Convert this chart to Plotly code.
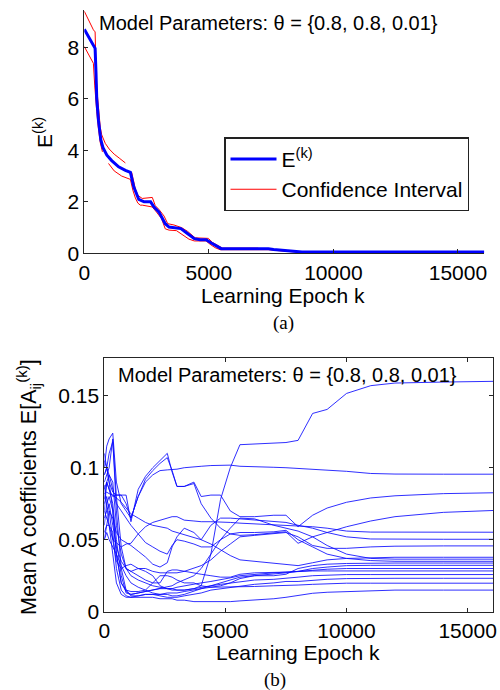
import plotly.graph_objects as go

W, H = 500, 690

# ---------------- (a) data ----------------
epoch_a = [0, 200, 365, 434, 470, 500, 567, 664, 750, 907, 1100, 1378, 1650, 1852, 1985, 2100,
           2188, 2400, 2662, 2800, 3000, 3136, 3250, 3404, 3600, 3878, 4100, 4417, 4650, 4891,
           5100, 5300, 5498, 6000, 7000, 7390, 7600, 8060, 8300, 8740, 9500, 12000, 16060]
error_mean = [8.7, 8.35, 8.1, 7.96, 7.0, 6.0, 5.17, 4.4, 4.1, 3.81, 3.6, 3.36, 3.22, 3.14, 2.58, 2.3,
              2.09, 2.0, 2.0, 1.8, 1.6, 1.35, 1.15, 1.02, 1.0, 0.96, 0.8, 0.57, 0.53, 0.53,
              0.4, 0.28, 0.18, 0.18, 0.18, 0.18, 0.15, 0.12, 0.1, 0.05, 0.05, 0.05, 0.05]

ci_upper_k1 = [0, 200, 365, 434, 450, 480, 520, 580, 640, 700, 842, 1000, 1200, 1400, 1649]
ci_upper_v1 = [9.4, 9.0, 8.68, 8.6, 7.5, 6.8, 6.2, 5.5, 4.9, 4.6, 4.27, 4.05, 3.85, 3.7, 3.51]
ci_upper_k2 = [1900, 1960, 2050, 2150, 2326, 2730, 2850, 3000, 3200, 3350, 3600, 3900, 4150, 4450,
               4700, 4980, 5150, 5350, 5550, 6000, 6985]
ci_upper_v2 = [3.15, 2.9, 2.5, 2.25, 2.13, 2.17, 1.85, 1.7, 1.45, 1.15, 1.1, 1.0, 0.85, 0.6,
               0.58, 0.58, 0.42, 0.3, 0.2, 0.2, 0.2]
ci_lower_k1 = [0, 231, 365, 420, 450, 500, 560, 640, 729]
ci_lower_v1 = [8.03, 7.64, 7.38, 6.5, 6.0, 5.5, 4.9, 4.3, 3.94]
ci_lower_k2 = [972, 1200, 1500, 1852, 1950, 2050, 2150, 2250, 2326, 2730, 2900, 3100, 3250, 3404,
               3700, 3950, 4200, 4417, 4891, 5050, 5250, 5450, 6000, 7400, 8060, 8870]
ci_lower_v2 = [3.49, 3.2, 3.0, 2.87, 2.45, 2.15, 1.95, 1.87, 1.87, 1.80, 1.6, 1.35, 0.95, 0.9,
               0.88, 0.72, 0.55, 0.48, 0.48, 0.35, 0.22, 0.14, 0.14, 0.14, 0.08, 0.03]

# ---------------- (b) data ----------------
epoch_b = [0, 100, 200, 350, 500, 700, 900, 1100, 1400, 1700, 2000, 2300, 2600, 2800, 3000, 3300,
           3700, 4000, 4400, 4800, 5200, 5600, 6200, 7000, 7500, 8000, 8600, 9200, 10000, 11000,
           12000, 14000, 16060]
a01 = [0.095, 0.10, 0.11, 0.118, 0.08, 0.045, 0.03, 0.025, 0.022, 0.02, 0.018, 0.017, 0.016, 0.016, 0.015, 0.015,
       0.016, 0.018, 0.04, 0.078, 0.100, 0.116, 0.1165, 0.117, 0.1175, 0.119, 0.1377, 0.1405, 0.1516, 0.157,
       0.1588, 0.1595, 0.160]
a02 = [0.078, 0.09, 0.085, 0.08, 0.081, 0.081, 0.075, 0.065, 0.08, 0.09, 0.095, 0.098, 0.0985, 0.0988, 0.099, 0.100,
       0.1003, 0.101, 0.1015, 0.1018, 0.1018, 0.101, 0.1005, 0.1003, 0.100, 0.0995, 0.099, 0.098, 0.0975, 0.096,
       0.0956, 0.0955, 0.0955]
a03 = [0.11, 0.10, 0.09, 0.083, 0.081, 0.081, 0.081, 0.0625, 0.085, 0.094, 0.10, 0.105, 0.110, 0.097, 0.087, 0.087,
       0.090, 0.080, 0.081, 0.081, 0.070, 0.066, 0.066, 0.067, 0.067, 0.059, 0.067, 0.072, 0.076, 0.079,
       0.0805, 0.082, 0.0826]
a04 = [0.10, 0.115, 0.12, 0.124, 0.09, 0.075, 0.07, 0.065, 0.08, 0.092, 0.098, 0.103, 0.107, 0.098, 0.087, 0.087,
       0.089, 0.075, 0.065, 0.058, 0.054, 0.053, 0.0535, 0.055, 0.0555, 0.0475, 0.052, 0.055, 0.059, 0.063,
       0.066, 0.069, 0.0703]
a05 = [0.088, 0.075, 0.06, 0.05, 0.048, 0.045, 0.047, 0.0475, 0.054, 0.059, 0.062, 0.0636, 0.065, 0.066, 0.066, 0.0636,
       0.063, 0.0625, 0.0625, 0.0625, 0.062, 0.0615, 0.061, 0.0605, 0.060, 0.0595, 0.059, 0.058, 0.056, 0.0553,
       0.0552, 0.0552, 0.0552]
a06 = [0.05, 0.06, 0.07, 0.065, 0.055, 0.05, 0.048, 0.046, 0.042, 0.038, 0.033, 0.031, 0.034, 0.045, 0.052, 0.058,
       0.055, 0.050, 0.06, 0.065, 0.065, 0.0645, 0.064, 0.063, 0.062, 0.060, 0.058, 0.055, 0.052, 0.0505,
       0.0503, 0.0503, 0.0503]
a07 = [0.07, 0.09, 0.095, 0.09, 0.06, 0.04, 0.03, 0.028, 0.03, 0.03, 0.028, 0.027, 0.027, 0.027, 0.027, 0.028,
       0.03, 0.032, 0.036, 0.042, 0.047, 0.052, 0.053, 0.054, 0.055, 0.052, 0.046, 0.044, 0.044, 0.045,
       0.0455, 0.0457, 0.0457]
a08 = [0.082, 0.083, 0.082, 0.081, 0.079, 0.076, 0.072, 0.068, 0.065, 0.062, 0.060, 0.059, 0.058, 0.056, 0.055, 0.053,
       0.051, 0.050, 0.047, 0.043, 0.039, 0.036, 0.035, 0.034, 0.033, 0.032, 0.034, 0.036, 0.037, 0.0375,
       0.0378, 0.0378, 0.0378]
a09 = [0.105, 0.10, 0.095, 0.085, 0.075, 0.07, 0.065, 0.06, 0.054, 0.048, 0.045, 0.042, 0.04, 0.046, 0.05, 0.049,
       0.047, 0.045, 0.045, 0.05, 0.058, 0.065, 0.0645, 0.06, 0.058, 0.056, 0.052, 0.046, 0.04, 0.037,
       0.0365, 0.0365, 0.0365]
a10 = [0.06, 0.075, 0.08, 0.07, 0.04, 0.02, 0.014, 0.012, 0.013, 0.014, 0.015, 0.016, 0.017, 0.018, 0.02, 0.022,
       0.025, 0.03, 0.04, 0.05, 0.054, 0.055, 0.055, 0.0555, 0.0565, 0.05, 0.045, 0.04, 0.037, 0.0355,
       0.035, 0.035, 0.035]
a11 = [0.09, 0.095, 0.1, 0.12, 0.07, 0.03, 0.015, 0.011, 0.011, 0.012, 0.012, 0.012, 0.013, 0.013, 0.013, 0.014,
       0.015, 0.016, 0.018, 0.02, 0.022, 0.024, 0.025, 0.025, 0.026, 0.03, 0.032, 0.033, 0.0335, 0.0338,
       0.0338, 0.0338, 0.0338]
a12 = [0.065, 0.07, 0.075, 0.06, 0.045, 0.035, 0.03, 0.028, 0.025, 0.022, 0.02, 0.02, 0.028, 0.029, 0.029, 0.028,
       0.027, 0.026, 0.025, 0.024, 0.024, 0.026, 0.027, 0.027, 0.0275, 0.028, 0.03, 0.031, 0.032, 0.0322,
       0.0322, 0.0322, 0.0322]
a13 = [0.05, 0.055, 0.05, 0.045, 0.04, 0.032, 0.025, 0.02, 0.017, 0.015, 0.013, 0.012, 0.012, 0.011, 0.011, 0.012,
       0.014, 0.016, 0.017, 0.018, 0.02, 0.023, 0.025, 0.026, 0.027, 0.028, 0.029, 0.0295, 0.03, 0.03,
       0.03, 0.03, 0.03]
a14 = [0.085, 0.09, 0.085, 0.075, 0.05, 0.025, 0.013, 0.012, 0.013, 0.014, 0.015, 0.016, 0.016, 0.016, 0.017, 0.018,
       0.019, 0.02, 0.021, 0.022, 0.0235, 0.025, 0.026, 0.027, 0.0275, 0.028, 0.0283, 0.0283, 0.0283, 0.0283,
       0.0283, 0.0283, 0.0283]
a15 = [0.075, 0.08, 0.07, 0.05, 0.035, 0.03, 0.032, 0.033, 0.03, 0.028, 0.025, 0.018, 0.016, 0.015, 0.015, 0.015,
       0.016, 0.017, 0.018, 0.019, 0.02, 0.021, 0.022, 0.0225, 0.023, 0.024, 0.025, 0.0255, 0.0258, 0.0258,
       0.0258, 0.0258, 0.0258]
a16 = [0.055, 0.06, 0.06, 0.055, 0.03, 0.015, 0.011, 0.01, 0.011, 0.012, 0.012, 0.011, 0.01, 0.01, 0.01, 0.011,
       0.012, 0.013, 0.015, 0.016, 0.017, 0.018, 0.019, 0.02, 0.021, 0.021, 0.022, 0.0225, 0.023, 0.0232,
       0.0232, 0.0232, 0.0232]
a17 = [0.095, 0.1, 0.09, 0.07, 0.04, 0.02, 0.015, 0.014, 0.014, 0.015, 0.02, 0.025, 0.025, 0.024, 0.022, 0.02,
       0.02, 0.018, 0.017, 0.017, 0.017, 0.017, 0.0175, 0.018, 0.018, 0.0185, 0.019, 0.0195, 0.0198, 0.0198,
       0.0198, 0.0198, 0.0198]
a18 = [0.07, 0.065, 0.06, 0.04, 0.02, 0.012, 0.01, 0.01, 0.01, 0.01, 0.01, 0.009, 0.009, 0.009, 0.008, 0.008,
       0.007, 0.007, 0.0068, 0.0068, 0.007, 0.0075, 0.008, 0.009, 0.01, 0.0115, 0.0128, 0.0135, 0.014, 0.0145,
       0.015, 0.015, 0.015]
coef_series = [a01, a02, a03, a04, a05, a06, a07, a08, a09, a10, a11, a12, a13, a14, a15, a16, a17, a18]

x_ticks = [0, 5000, 10000, 15000]
x_ticklabels = ["0", "5000", "10000", "15000"]
ya_ticks = [0, 2, 4, 6, 8]
yb_ticks = [0, 0.05, 0.1, 0.15]
yb_ticklabels = ["0", "0.05", "0.1", "0.15"]

SANS = "Liberation Sans, Arial, Helvetica, sans-serif"
SERIF = "Liberation Serif, Times New Roman, serif"
AX = "#262626"


def px(x):
    return x / W


def py(y):
    return 1 - y / H


fig = go.Figure()

# (a) traces: red first (drawn under), blue last
fig.add_trace(go.Scatter(x=ci_upper_k1 + [None] + ci_upper_k2, y=ci_upper_v1 + [None] + ci_upper_v2,
                         mode="lines", line=dict(color="rgb(255,0,0)", width=1),
                         name="Confidence Interval", xaxis="x", yaxis="y", legendrank=2))
fig.add_trace(go.Scatter(x=ci_lower_k1 + [None] + ci_lower_k2, y=ci_lower_v1 + [None] + ci_lower_v2,
                         mode="lines", line=dict(color="rgb(255,0,0)", width=1),
                         showlegend=False, xaxis="x", yaxis="y"))
fig.add_trace(go.Scatter(x=epoch_a, y=error_mean, mode="lines",
                         line=dict(color="rgb(0,0,255)", width=3),
                         name="E<sup>(k)</sup>", xaxis="x", yaxis="y", legendrank=1))

# (b) traces
for s in coef_series:
    fig.add_trace(go.Scatter(x=epoch_b, y=s, mode="lines",
                             line=dict(color="rgba(10,10,255,0.85)", width=1),
                             showlegend=False, xaxis="x2", yaxis="y2"))

XR = [0, 16060]
common_axis = dict(showgrid=False, zeroline=False, ticks="inside", ticklen=4, tickcolor=AX,
                   linecolor=AX, linewidth=1, showline=True, automargin=False,
                   ticklabeloverflow="allow",
                   tickfont=dict(family=SANS, size=21, color="#000"))

fig.update_layout(
    width=W, height=H, margin=dict(l=0, r=0, t=0, b=0, autoexpand=False),
    paper_bgcolor="white", plot_bgcolor="white",
    xaxis=dict(domain=[px(84.3), px(484.3)], range=XR, anchor="y",
               tickvals=x_ticks, ticktext=x_ticklabels, mirror=False, **common_axis),
    yaxis=dict(domain=[py(253.3), py(10)], range=[0, 9.45], anchor="x",
               tickvals=ya_ticks, mirror=False, **common_axis),
    xaxis2=dict(domain=[px(104.3), px(493.3)], range=XR, anchor="y2",
                tickvals=x_ticks, ticktext=x_ticklabels, mirror="ticks", **common_axis),
    yaxis2=dict(domain=[py(611.7), py(358.3)], range=[0, 0.176], anchor="x2",
                tickvals=yb_ticks, ticktext=yb_ticklabels, mirror="ticks", **common_axis),
    showlegend=True,
    legend=dict(x=px(224), y=py(137.3), xanchor="left", yanchor="top",
                bgcolor="white", bordercolor="#222", borderwidth=1.5,
                font=dict(family=SANS, size=21, color="#000"),
                tracegroupgap=0, itemwidth=46),
)

annots = [
    dict(text="Model Parameters: θ = {0.8, 0.8, 0.01}", x=px(97), y=py(23), xanchor="left", yanchor="middle",
         font=dict(family=SANS, size=20, color="#000")),
    dict(text="Learning Epoch k", x=px(283), y=py(295), xanchor="center", yanchor="middle",
         font=dict(family=SANS, size=21, color="#000")),
    dict(text="(a)", x=px(283), y=py(323), xanchor="center", yanchor="middle",
         font=dict(family=SERIF, size=19, color="#000")),
    dict(text="E<sup>(k)</sup>", x=px(43), y=py(133), xanchor="center", yanchor="middle", textangle=-90,
         font=dict(family=SANS, size=21, color="#000")),
    dict(text="Model Parameters: θ = {0.8, 0.8, 0.01}", x=px(116), y=py(375), xanchor="left", yanchor="middle",
         font=dict(family=SANS, size=20, color="#000")),
    dict(text="Learning Epoch k", x=px(298), y=py(652), xanchor="center", yanchor="middle",
         font=dict(family=SANS, size=21, color="#000")),
    dict(text="(b)", x=px(275), y=py(680), xanchor="center", yanchor="middle",
         font=dict(family=SERIF, size=19, color="#000")),
    dict(text="Mean A coefficients E[A<sub>ij</sub><sup>(k)</sup>]", x=px(28), y=py(487),
         xanchor="center", yanchor="middle", textangle=-90,
         font=dict(family=SANS, size=21.5, color="#000")),
]
for a in annots:
    a.update(xref="paper", yref="paper", showarrow=False)
fig.update_layout(annotations=annots)

fig.write_html("out.html", config={"displayModeBar": False},
               post_script="document.body.style.margin='0';document.body.style.overflow='hidden';")
